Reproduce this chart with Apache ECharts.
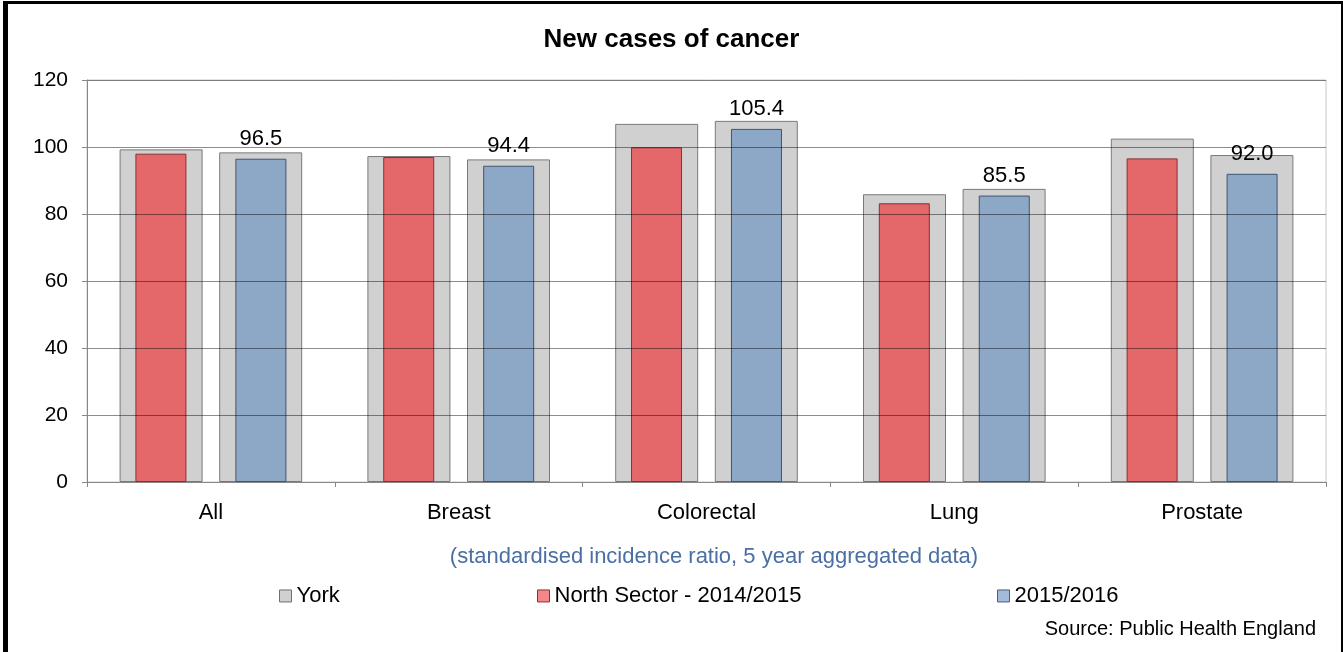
<!DOCTYPE html>
<html>
<head>
	<title>New cases of cancer</title>
	<script src="https://cdn.jsdelivr.net/npm/echarts@6/dist/echarts.min.js"></script>
	<style>
	html, body {
		margin: 0;
		padding: 0;
		background: #fff;
	}
	#main {
		position: absolute;
		left: 0;
		top: 0;
		width: 1343px;
		height: 652px;
	}
	#frame {
		position: absolute;
		left: 3px;
		top: 1px;
		width: 1340px;
		height: 651px;
		box-sizing: border-box;
		border-top: 3px solid #000;
		border-left: 5px solid #000;
		border-right: 2px solid #000;
		pointer-events: none;
	}
	</style>
</head>
<body>
	<div id="main"></div>
	<div id="frame"></div>
	<script>
		var categories = ['All', 'Breast', 'Colorectal', 'Lung', 'Prostate'];
		// York comparator, one bar behind each North Sector period
		var york1415 = [99.3, 97.3, 106.9, 85.9, 102.5];
		var york1516 = [98.4, 96.3, 107.8, 87.5, 97.6];
		var north1415 = [98.0, 97.0, 99.9, 83.2, 96.6];
		var north1516 = [96.5, 94.4, 105.4, 85.5, 92.0];
		var yTicks = [0, 20, 40, 60, 80, 100, 120];

		var font = 'Liberation Sans, Arial, sans-serif';
		var myChart = echarts.init(document.getElementById('main'));

		var greyStyle = { color: '#d0d0d0', borderColor: '#7a7a7a', borderWidth: 1 };

		function legendAt(name, left, fill, border) {
			return {
				data: [name],
				left: left,
				top: 572,
				icon: 'rect',
				itemWidth: 12,
				itemHeight: 12,
				itemStyle: { color: fill, borderColor: border, borderWidth: 1 },
				textStyle: { fontFamily: font, fontSize: 22, color: '#000' }
			};
		}

		var option = {
			backgroundColor: '#fff',
			animation: false,
			textStyle: { fontFamily: font },
			title: [{
				text: 'New cases of cancer',
				left: 'center',
				top: 12,
				textStyle: { fontFamily: font, fontSize: 26, fontWeight: 'bold', color: '#000' }
			}, {
				text: 'Source: Public Health England',
				right: 22,
				top: 607,
				textStyle: { fontFamily: font, fontSize: 20, fontWeight: 'normal', color: '#000' }
			}],
			legend: [
				legendAt('York', 274, '#d0d0d0', '#6f6f6f'),
				legendAt('North Sector - 2014/2015', 532, '#f48888', '#8c2f33'),
				legendAt('2015/2016', 992, '#a3badb', '#4a5f7a')
			],
			grid: {
				left: 87,
				right: 17,
				top: 80,
				bottom: 170,
				show: true,
				borderColor: '#c8c8c8',
				borderWidth: 1
			},
			xAxis: [{
				type: 'category',
				data: categories,
				name: '(standardised incidence ratio, 5 year aggregated data)',
				nameLocation: 'middle',
				nameGap: 56,
				nameTextStyle: { fontFamily: font, fontSize: 22, color: '#4a6fa5', padding: [0, 0, 0, 15] },
				axisLine: { lineStyle: { color: '#888' } },
				axisTick: { show: true, length: 5, lineStyle: { color: '#888' } },
				axisLabel: { fontFamily: font, fontSize: 22, color: '#000', margin: 12 },
				z: 10
			}, {
				type: 'category',
				data: categories,
				show: false
			}],
			yAxis: {
				type: 'value',
				min: yTicks[0],
				max: yTicks[yTicks.length - 1],
				interval: 20,
				axisLine: { show: true, lineStyle: { color: '#888' } },
				axisTick: { show: true, length: 5, lineStyle: { color: '#888' } },
				axisLabel: { fontFamily: font, fontSize: 21, color: '#000', margin: 19 },
				splitLine: { lineStyle: { color: 'rgba(0,0,0,0.45)', width: 1 } },
				z: 10
			},
			series: [{
				name: 'York',
				type: 'bar',
				xAxisIndex: 0,
				data: york1415,
				barWidth: 83,
				barGap: '20%',
				itemStyle: greyStyle
			}, {
				name: 'York',
				type: 'bar',
				xAxisIndex: 0,
				data: york1516,
				barWidth: 83,
				barGap: '20%',
				itemStyle: greyStyle
			}, {
				name: 'North Sector - 2014/2015',
				type: 'bar',
				xAxisIndex: 1,
				data: north1415,
				barWidth: 51,
				barGap: '96%',
				z: 3,
				itemStyle: { color: '#e4676a', borderColor: '#8c2f33', borderWidth: 1 }
			}, {
				name: '2015/2016',
				type: 'bar',
				xAxisIndex: 1,
				data: north1516,
				barWidth: 51,
				barGap: '96%',
				z: 3,
				itemStyle: { color: '#8da8c6', borderColor: '#3f5571', borderWidth: 1 },
				label: {
					show: true,
					position: 'top',
					distance: 1,
					fontFamily: font,
					fontSize: 22,
					color: '#000',
					formatter: function (p) { return p.value.toFixed(1); }
				}
			}]
		};
		myChart.setOption(option);
	</script>
</body>
</html>
